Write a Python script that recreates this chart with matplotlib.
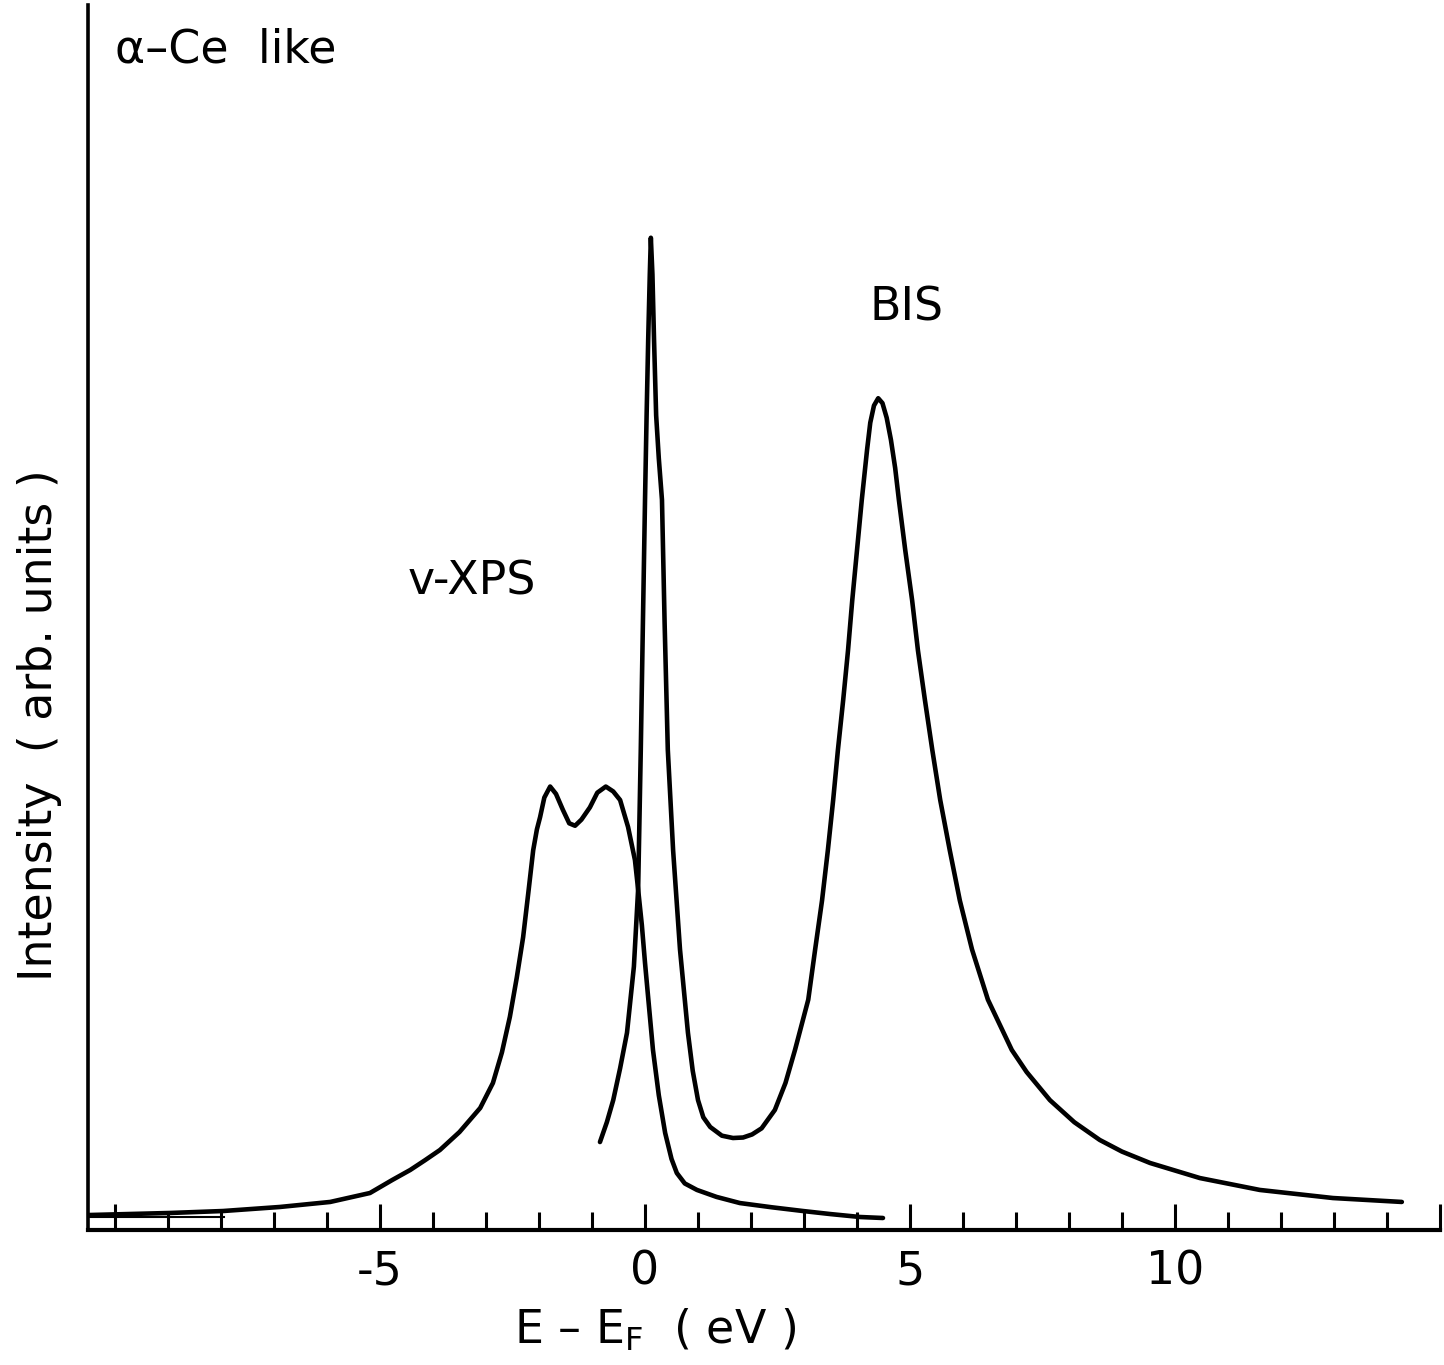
import matplotlib
matplotlib.use("Agg")
import matplotlib.pyplot as plt

plt.rcParams['font.family'] = ['DejaVu Sans']

# ---- data (energy in eV, intensity in arbitrary units 0..100) ----
xps_E = [-10.51, -8.96, -7.96, -6.89, -5.94, -5.19, -4.77, -4.43, -4.15, -3.87,
         -3.50, -3.11, -2.87, -2.70, -2.55, -2.42, -2.30, -2.20, -2.11, -2.04,
         -1.98, -1.90, -1.79, -1.68, -1.55, -1.43, -1.32, -1.20, -1.04, -0.90,
         -0.74, -0.60, -0.47, -0.32, -0.19, -0.13, -0.06, 0.0, 0.08, 0.15,
         0.26, 0.38, 0.50, 0.60, 0.75, 0.98, 1.35, 1.79, 2.40, 2.98, 3.50,
         4.06, 4.49]
xps_I = [1.22, 1.39, 1.55, 1.88, 2.29, 3.02, 4.08, 4.90, 5.70, 6.53,
         8.00, 9.96, 12.0, 14.5, 17.4, 20.6, 23.9, 27.6, 31.0, 32.7,
         33.7, 35.3, 36.2, 35.6, 34.3, 33.2, 33.0, 33.5, 34.5, 35.7,
         36.2, 35.8, 35.1, 32.9, 30.2, 27.8, 24.9, 21.8, 18.0, 14.7,
         11.0, 7.92, 5.80, 4.65, 3.80, 3.27, 2.70, 2.20, 1.85, 1.55, 1.30,
         1.06, 0.98]

bis_E = [-0.85, -0.72, -0.60, -0.47, -0.34, -0.21, -0.13, -0.08, -0.04, 0.0,
         0.03, 0.06, 0.09, 0.11, 0.14, 0.17, 0.21, 0.26, 0.32, 0.37, 0.43,
         0.53, 0.66, 0.81, 0.90, 1.00, 1.10, 1.23, 1.45, 1.66, 1.85, 2.02,
         2.20, 2.45, 2.65, 2.83, 3.08, 3.21, 3.34, 3.45, 3.55, 3.64, 3.74,
         3.83, 3.91, 4.00, 4.09, 4.19, 4.25, 4.32, 4.40, 4.48, 4.56, 4.64,
         4.72, 4.79, 4.91, 5.04, 5.15, 5.28, 5.42, 5.57, 5.75, 5.94, 6.17,
         6.47, 6.92, 7.20, 7.64, 8.10, 8.58, 9.00, 9.53, 10.47, 11.60,
         12.98, 14.28]
bis_I = [7.18, 8.80, 10.6, 13.2, 16.1, 21.5, 27.8, 39.2, 49.5, 59.6,
         66.5, 72.7, 78.0, 81.0, 78.0, 72.7, 66.5, 63.0, 59.6, 49.5, 39.2,
         31.0, 22.9, 16.1, 13.0, 10.6, 9.20, 8.41, 7.70, 7.51, 7.55, 7.80,
         8.30, 9.80, 12.0, 14.7, 18.8, 22.9, 26.9, 31.0, 35.1, 39.2, 43.3,
         47.3, 51.4, 55.5, 59.6, 63.7, 65.9, 67.3, 67.9, 67.5, 66.3, 64.5,
         62.2, 59.6, 55.5, 51.4, 47.3, 43.3, 39.2, 35.1, 31.0, 26.9, 22.9,
         18.8, 14.7, 12.9, 10.6, 8.80, 7.35, 6.40, 5.47, 4.24, 3.27,
         2.61, 2.29]

baseline_E = [-10.51, -7.95]
baseline_I = [1.06, 1.06]

major_ticks = [-10, -5, 0, 5, 10, 15]
major_labels = ["", "-5", "0", "5", "10", ""]
minor_ticks = [v for v in range(-10, 16) if v % 5 != 0]

# ---- figure ----
fig = plt.figure(figsize=(14.44, 13.65), dpi=100)
ax = fig.add_axes([88/1444, 1-1230/1365, (1440-88)/1444, (1230-5)/1365])
ax.set_xlim(-10.51, 15.0)
ax.set_ylim(0, 100)

lw = 3.3
ax.plot(xps_E, xps_I, color='black', lw=lw, solid_joinstyle='round', solid_capstyle='round')
ax.plot(bis_E, bis_I, color='black', lw=lw, solid_joinstyle='round', solid_capstyle='round')
ax.plot(baseline_E, baseline_I, color='black', lw=1.5)

for s in ['top', 'right']:
    ax.spines[s].set_visible(False)
ax.spines['left'].set_linewidth(2.6)
ax.spines['bottom'].set_linewidth(3.0)

ax.set_xticks(major_ticks)
ax.set_xticklabels(major_labels)
ax.set_xticks(minor_ticks, minor=True)
ax.tick_params(axis='x', which='major', direction='in', length=19, width=2.2,
               labelsize=33, pad=14)
ax.tick_params(axis='x', which='minor', direction='in', length=13, width=2.2)
ax.set_yticks([])

fs = 33
ax.text(-10.0, 96.3, "α–Ce  like", fontsize=fs, ha='left', va='center')
ax.text(4.94, 75.3, "BIS", fontsize=fs, ha='center', va='center')
ax.text(-3.26, 52.9, "v-XPS", fontsize=fs, ha='center', va='center')

fig.text(655/1444, 1-1330/1365, r"E – E$_\mathrm{F}$  ( eV )", fontsize=fs,
         ha='center', va='center')
fig.text(40/1444, 1-725/1365, "Intensity  ( arb. units )", fontsize=fs,
         ha='center', va='center', rotation=90)

fig.savefig("out.png", dpi=100)
